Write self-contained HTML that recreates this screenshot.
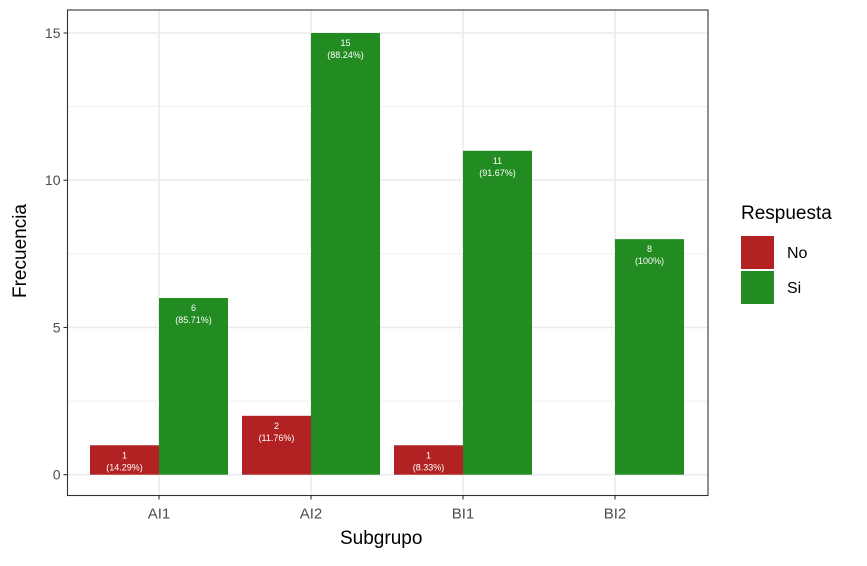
<!DOCTYPE html>
<html><head><meta charset="utf-8"><style>
body{margin:0;background:#fff;font-family:"Liberation Sans",sans-serif}
</style></head><body>
<svg id="c" width="867" height="561" xmlns="http://www.w3.org/2000/svg" font-family="Liberation Sans, sans-serif"></svg>
<script>
const categories=["AI1","AI2","BI1","BI2"];
const noValues=[1,2,1,0];
const noPct=["14.29%","11.76%","8.33%",""];
const siValues=[6,15,11,8];
const siPct=["85.71%","88.24%","91.67%","100%"];
const yTicks=[0,5,10,15];
const yMinor=[2.5,7.5,12.5];
const NS="http://www.w3.org/2000/svg";
const svg=document.getElementById('c');
const L=67.5,R=708,T=10,B=495.5;
const y0=474.7,yPer=(474.7-33)/15;
function y(v){return y0-v*yPer;}
const step=152,first=159,bw=69;
function x(i){return first+i*step;}
function mk(t,a,p){const e=document.createElementNS(NS,t);for(const k in a)e.setAttribute(k,a[k]);(p||svg).appendChild(e);return e;}
yMinor.forEach(v=>{const e=mk('line',{x1:L,x2:R,y1:y(v),y2:y(v),stroke:'#ebebeb','stroke-width':0.8});

});
yTicks.forEach(v=>{const e=mk('line',{x1:L,x2:R,y1:y(v),y2:y(v),stroke:'#ebebeb','stroke-width':1.6});


const tk=mk('line',{x1:L-4,x2:L,y1:y(v),y2:y(v),stroke:'#333','stroke-width':1.1});


const t=mk('text',{x:L-7,y:y(v)+5,'text-anchor':'end','font-size':14,fill:'#4d4d4d'});t.textContent=v;

});
categories.forEach((c,i)=>{const e=mk('line',{x1:x(i),x2:x(i),y1:T,y2:B,stroke:'#ebebeb','stroke-width':1.6});

});
function bar(i,v,pct,dx,col,nm){
 if(v<=0)return;
 const r=mk('rect',{x:x(i)+dx,y:y(v),width:bw,height:y(0)-y(v),fill:col});
 
 
 const cx=x(i)+dx+bw/2;
 const t1=mk('text',{x:cx,y:y(v)+13,'text-anchor':'middle','font-size':9,fill:'#fff'});t1.textContent=v;
 
 
 const t2=mk('text',{x:cx,y:y(v)+25,'text-anchor':'middle','font-size':9,fill:'#fff'});t2.textContent='('+pct+')';
 
 
}
categories.forEach((c,i)=>{bar(i,noValues[i],noPct[i],-bw,'#b22222','no');bar(i,siValues[i],siPct[i],0,'#228b22','si');
 const tk=mk('line',{x1:x(i),x2:x(i),y1:B,y2:B+4,stroke:'#333','stroke-width':1.1});
 
 
 const t=mk('text',{x:x(i),y:B+23,'text-anchor':'middle','font-size':15,fill:'#4d4d4d'});t.textContent=c;
 
 });
const fr=mk('rect',{x:L,y:T,width:R-L,height:B-T,fill:'none',stroke:'#333','stroke-width':1.1});


</script>
<div style="position:absolute;left:0;top:0;width:867px;height:561px;pointer-events:none">
<div style="position:absolute;left:340px;top:528px;font-size:19px;color:#000">Subgrupo</div>
<div style="position:absolute;left:-24px;top:242px;font-size:19px;transform:rotate(-90deg);width:90px;text-align:center">Frecuencia</div>
<div style="position:absolute;left:741px;top:203px">
<div style="font-size:19px">Respuesta</div>
<div style="position:absolute;top:33px;left:0;width:200px"><div style="width:33px;height:33px;background:#b22222;display:inline-block"></div><span style="position:absolute;left:46px;top:9px;font-size:16px">No</span></div>
<div style="position:absolute;top:68px;left:0;width:200px"><div style="width:33px;height:33px;background:#228b22;display:inline-block"></div><span style="position:absolute;left:46px;top:9px;font-size:16px">Si</span></div>
</div></div>
</body></html>
